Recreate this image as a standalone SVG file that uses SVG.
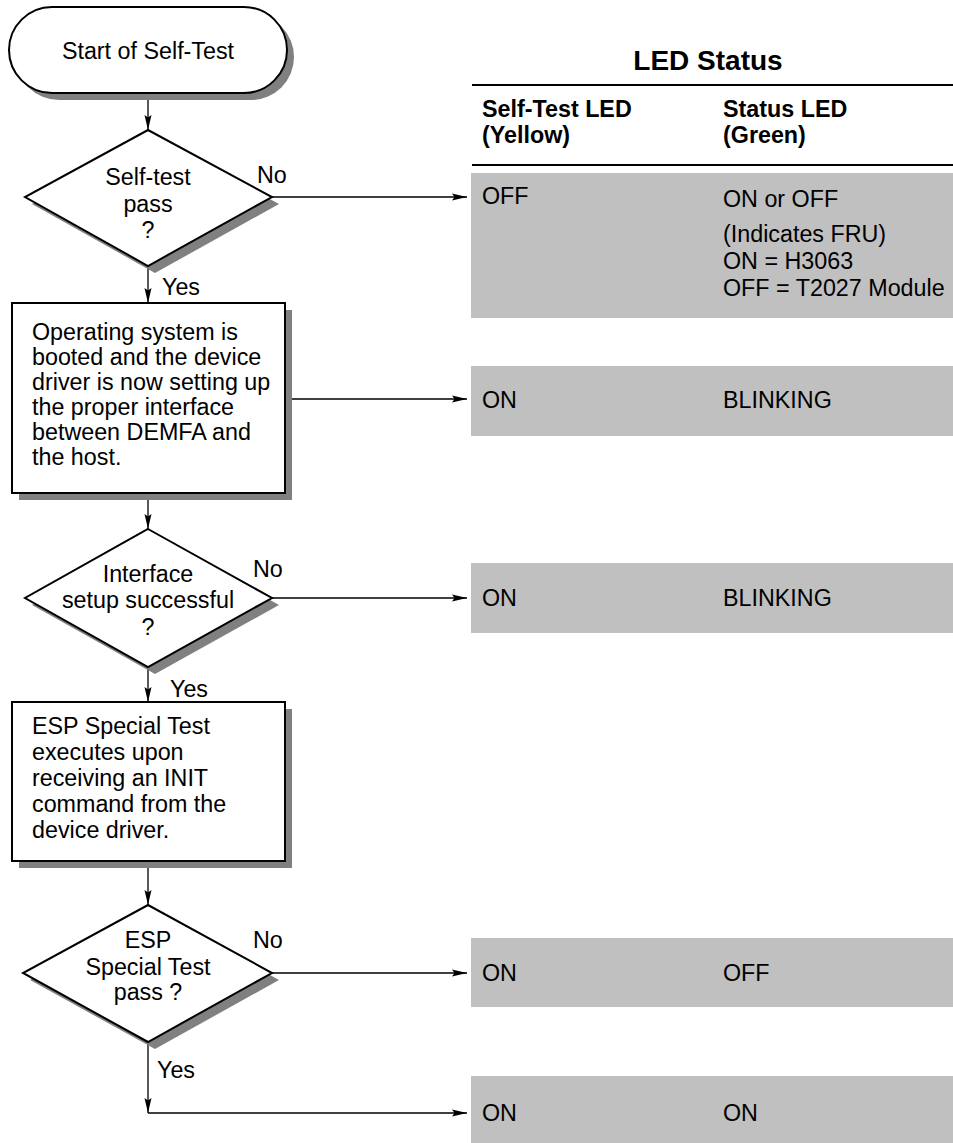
<svg xmlns="http://www.w3.org/2000/svg" width="953" height="1143" viewBox="0 0 953 1143">
  <style>
    text { font-family: "Liberation Sans", Arial, sans-serif; fill: #000; }
    .t { font-size: 23.3px; }
    .c { text-anchor: middle; }
    .b { font-weight: bold; }
    .shape { fill: #fff; stroke: #000; stroke-width: 2; }
    .shadow { fill: #808080; stroke: none; }
    .cell { fill: #c0c0c0; stroke: none; }
    .conn { fill: none; stroke: #000; stroke-width: 1.3; }
    .rule { stroke: #000; stroke-width: 2.2; }
  </style>
  <defs>
    <marker id="arrow" markerUnits="userSpaceOnUse" markerWidth="16" markerHeight="8" refX="15" refY="4" orient="auto">
      <path d="M0,0.5 L15,4 L0,7.5 L2.5,4 Z" fill="#000"/>
    </marker>
  </defs>

  <rect width="953" height="1143" fill="#fff"/>

  <!-- LED status table -->
  <g id="led-table">
    <text class="b c" x="708" y="70" font-size="28">LED Status</text>
    <line class="rule" x1="472" y1="85" x2="953" y2="85"/>
    <text class="t b" x="482" y="117">Self-Test LED</text>
    <text class="t b" x="482" y="143">(Yellow)</text>
    <text class="t b" x="723" y="117">Status LED</text>
    <text class="t b" x="723" y="143">(Green)</text>
    <line class="rule" x1="472" y1="165" x2="953" y2="165"/>
  </g>

  <g id="row-selftest-fail">
    <rect class="cell" x="471" y="173" width="482" height="145"/>
    <text class="t" x="482" y="204">OFF</text>
    <text class="t" x="723" y="207">ON or OFF</text>
    <text class="t" x="723" y="242">(Indicates FRU)</text>
    <text class="t" x="723" y="269">ON = H3063</text>
    <text class="t" x="723" y="296">OFF = T2027 Module</text>
  </g>
  <g id="row-booting">
    <rect class="cell" x="471" y="366" width="482" height="70"/>
    <text class="t" x="482" y="408">ON</text>
    <text class="t" x="723" y="408">BLINKING</text>
  </g>
  <g id="row-interface-fail">
    <rect class="cell" x="471" y="563" width="482" height="70"/>
    <text class="t" x="482" y="606">ON</text>
    <text class="t" x="723" y="606">BLINKING</text>
  </g>
  <g id="row-esp-fail">
    <rect class="cell" x="471" y="938" width="482" height="69"/>
    <text class="t" x="482" y="981">ON</text>
    <text class="t" x="723" y="981">OFF</text>
  </g>
  <g id="row-esp-pass">
    <rect class="cell" x="471" y="1076" width="482" height="67"/>
    <text class="t" x="482" y="1121">ON</text>
    <text class="t" x="723" y="1121">ON</text>
  </g>

  <!-- connectors -->
  <g id="connectors">
    <line class="conn" x1="148" y1="93" x2="148" y2="130" marker-end="url(#arrow)"/>
    <line class="conn" x1="272" y1="197" x2="467" y2="197" marker-end="url(#arrow)"/>
    <line class="conn" x1="148" y1="266" x2="148" y2="303" marker-end="url(#arrow)"/>
    <line class="conn" x1="285" y1="399" x2="467" y2="399" marker-end="url(#arrow)"/>
    <line class="conn" x1="148" y1="493" x2="148" y2="529" marker-end="url(#arrow)"/>
    <line class="conn" x1="272" y1="598" x2="467" y2="598" marker-end="url(#arrow)"/>
    <line class="conn" x1="148" y1="667" x2="148" y2="702" marker-end="url(#arrow)"/>
    <line class="conn" x1="148" y1="861" x2="148" y2="905" marker-end="url(#arrow)"/>
    <line class="conn" x1="272" y1="973" x2="467" y2="973" marker-end="url(#arrow)"/>
    <line class="conn" x1="148" y1="1042" x2="148" y2="1113" marker-end="url(#arrow)"/>
    <line class="conn" x1="148" y1="1113" x2="467" y2="1113" marker-end="url(#arrow)"/>
    <text class="t" x="257" y="183">No</text>
    <text class="t" x="162" y="295">Yes</text>
    <text class="t" x="253" y="577">No</text>
    <text class="t" x="170" y="697">Yes</text>
    <text class="t" x="253" y="948">No</text>
    <text class="t" x="157" y="1078">Yes</text>
  </g>

  <!-- flowchart nodes -->
  <g id="start">
    <rect class="shadow" x="16" y="14" width="278" height="86" rx="43"/>
    <rect class="shape" x="9" y="7" width="278" height="86" rx="43"/>
    <text class="t c" x="148" y="59">Start of Self-Test</text>
  </g>

  <g id="selftest-pass">
    <polygon class="shadow" points="155,137 279,204 155,273 32,204"/>
    <polygon class="shape" points="148,130 272,197 148,266 25,197"/>
    <text class="t c" x="148" y="185">Self-test</text>
    <text class="t c" x="148" y="212">pass</text>
    <text class="t c" x="148" y="238">?</text>
  </g>

  <g id="os-boot">
    <rect class="shadow" x="19" y="310" width="273" height="190"/>
    <rect class="shape" x="12" y="303" width="273" height="190"/>
    <text class="t" x="32" y="340">Operating system is</text>
    <text class="t" x="32" y="365">booted and the device</text>
    <text class="t" x="32" y="390">driver is now setting up</text>
    <text class="t" x="32" y="415">the proper interface</text>
    <text class="t" x="32" y="440">between DEMFA and</text>
    <text class="t" x="32" y="465">the host.</text>
  </g>

  <g id="interface-ok">
    <polygon class="shadow" points="155,536 279,605 155,674 32,605"/>
    <polygon class="shape" points="148,529 272,598 148,667 25,598"/>
    <text class="t c" x="148" y="582">Interface</text>
    <text class="t c" x="148" y="608">setup successful</text>
    <text class="t c" x="148" y="635">?</text>
  </g>

  <g id="esp-test">
    <rect class="shadow" x="19" y="709" width="273" height="159"/>
    <rect class="shape" x="12" y="702" width="273" height="159"/>
    <text class="t" x="32" y="734">ESP Special Test</text>
    <text class="t" x="32" y="760">executes upon</text>
    <text class="t" x="32" y="786">receiving an INIT</text>
    <text class="t" x="32" y="812">command from the</text>
    <text class="t" x="32" y="838">device driver.</text>
  </g>

  <g id="esp-pass">
    <polygon class="shadow" points="155,912 279,980 155,1049 30,980"/>
    <polygon class="shape" points="148,905 272,973 148,1042 23,973"/>
    <text class="t c" x="148" y="948">ESP</text>
    <text class="t c" x="148" y="975">Special Test</text>
    <text class="t c" x="148" y="1000">pass ?</text>
  </g>
</svg>
